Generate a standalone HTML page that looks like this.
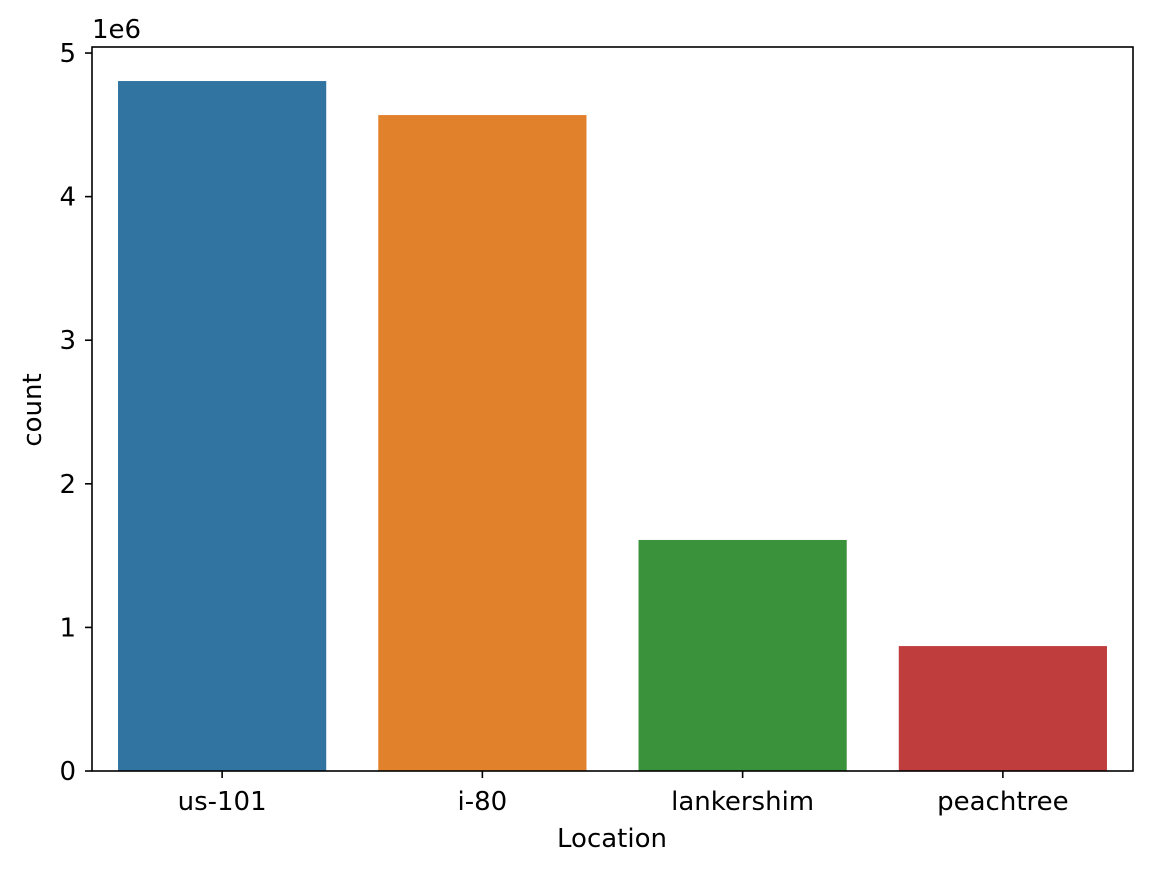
<!DOCTYPE html>
<html><head><meta charset="utf-8">
<style>
html,body{margin:0;padding:0;background:#fff;}
svg{display:block;font-family:"DejaVu Sans","Liberation Sans",sans-serif;}
</style></head>
<body>
<svg id="chart" width="1152" height="872" viewBox="0 0 1152 872">
<rect x="0" y="0" width="1152" height="872" fill="#fff"/>
<g id="bars"></g>
<g id="yticks"></g>
<g id="xticks"></g>
<rect x="92" y="47" width="1041" height="724" fill="none" stroke="#000" stroke-width="1.6"/>
<text x="92" y="38" font-size="26">1e6</text>
<text x="612" y="847" font-size="26" text-anchor="middle">Location</text>
<text transform="translate(41,410) rotate(-90)" font-size="26" text-anchor="middle">count</text>
</svg>
<script>
const categories = ["us-101", "i-80", "lankershim", "peachtree"];
const counts = [4805000, 4568000, 1609000, 870000];
const colors = ["#3274a1", "#e1812c", "#3a923a", "#c03d3e"];
const yTickValues = [0, 1, 2, 3, 4, 5];
const yTickLabels = ["0", "1", "2", "3", "4", "5"];

const L = 92, R = 1133, T = 47, B = 771;
const yMax = 5.042e6;
const NS = "http://www.w3.org/2000/svg";
function y(v){ return B - v / yMax * (B - T); }
const step = (R - L) / categories.length;
function xc(i){ return L + step * (i + 0.5); }

const gb = document.getElementById("bars");
categories.forEach((c, i) => {
  const r = document.createElementNS(NS, "rect");
  const w = step * 0.8;
  r.setAttribute("x", xc(i) - w / 2);
  r.setAttribute("y", y(counts[i]));
  r.setAttribute("width", w);
  r.setAttribute("height", B - y(counts[i]));
  r.setAttribute("fill", colors[i]);
  
  
  gb.appendChild(r);
});

const gy = document.getElementById("yticks");
yTickValues.forEach((v, i) => {
  const yy = y(v * 1e6);
  const l = document.createElementNS(NS, "line");
  l.setAttribute("x1", L - 7); l.setAttribute("x2", L);
  l.setAttribute("y1", yy); l.setAttribute("y2", yy);
  l.setAttribute("stroke", "#000"); l.setAttribute("stroke-width", "1.6");
  
  
  gy.appendChild(l);
  const t = document.createElementNS(NS, "text");
  t.setAttribute("x", L - 16); t.setAttribute("y", yy + 9);
  t.setAttribute("font-size", "26"); t.setAttribute("text-anchor", "end");
  t.textContent = yTickLabels[i];
  
  
  gy.appendChild(t);
});

const gx = document.getElementById("xticks");
categories.forEach((c, i) => {
  const xx = xc(i);
  const l = document.createElementNS(NS, "line");
  l.setAttribute("x1", xx); l.setAttribute("x2", xx);
  l.setAttribute("y1", B); l.setAttribute("y2", B + 7);
  l.setAttribute("stroke", "#000"); l.setAttribute("stroke-width", "1.6");
  
  
  gx.appendChild(l);
  const t = document.createElementNS(NS, "text");
  t.setAttribute("x", xx); t.setAttribute("y", B + 39);
  t.setAttribute("font-size", "26"); t.setAttribute("text-anchor", "middle");
  t.textContent = c;
  
  
  gx.appendChild(t);
});
</script>
</body></html>
